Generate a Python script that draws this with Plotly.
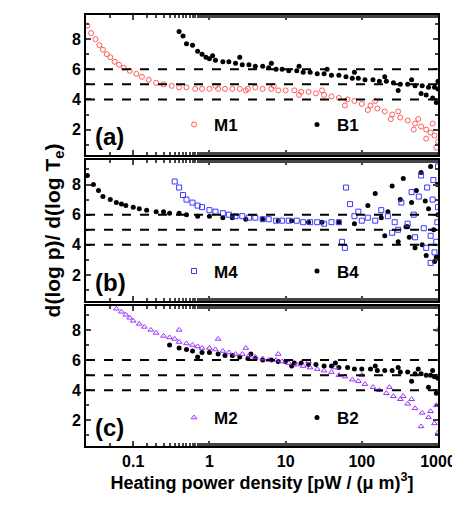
'''
d(log p)/d(log Te) vs heating power density, three samples
'''
import plotly.graph_objects as go
from plotly.subplots import make_subplots

# panel (a)
m1_x = [0.022, 0.025, 0.028, 0.032, 0.036, 0.04, 0.045, 0.05, 0.057, 0.065, 0.075, 0.09, 0.11, 0.13, 0.16, 0.2,
        0.25, 0.32, 0.4, 0.5, 0.65, 0.8, 1.0, 1.3, 1.6, 2.0, 2.5, 3.2, 4.0, 5.0, 6.5, 8.0, 10, 13, 16, 20,
        25, 32, 40, 50, 65, 80, 100, 130, 160, 200, 250, 320, 400, 500, 600, 700, 800, 900, 1000,
        1.2, 3.0, 7.0, 15, 30, 60, 120, 240, 480, 700, 950, 300, 550, 850, 150]
m1_y = [9.4, 8.9, 8.4, 8.0, 7.6, 7.3, 7.0, 6.8, 6.5, 6.3, 6.1, 5.9, 5.7, 5.5, 5.3, 5.1,
        5.0, 4.9, 4.8, 4.8, 4.7, 4.7, 4.7, 4.7, 4.7, 4.7, 4.7, 4.7, 4.8, 4.7, 4.7, 4.6, 4.6, 4.6, 4.5, 4.5,
        4.4, 4.3, 4.2, 4.1, 4.0, 3.9, 3.7, 3.6, 3.4, 3.2, 3.0, 2.8, 2.6, 2.4, 2.2, 2.0, 1.8, 1.6, 1.2,
        4.9, 4.6, 4.9, 4.3, 4.6, 3.6, 3.3, 2.7, 2.0, 1.4, 0.8, 3.2, 2.7, 2.4, 3.9]
b1_x = [0.4, 0.45, 0.5, 0.6, 0.7, 0.8, 0.9, 1.0, 1.2, 1.5, 1.8, 2.2, 2.7, 3.3, 4.0, 5.0, 6.0, 7.5, 9.0, 11,
        14, 17, 21, 26, 32, 40, 50, 62, 75, 90, 110, 140, 170, 210, 260, 320, 400, 500, 620, 750, 900, 1000,
        1.1, 2.5, 6.5, 15, 35, 80, 200, 450, 700, 850, 950, 300, 600, 1000]
b1_y = [8.5, 8.2, 7.7, 7.6, 7.2, 7.0, 6.8, 6.7, 6.6, 6.5, 6.5, 6.4, 6.3, 6.3, 6.2, 6.2, 6.1, 6.0, 6.0, 5.9,
        5.9, 5.8, 5.8, 5.7, 5.7, 5.6, 5.6, 5.5, 5.4, 5.4, 5.3, 5.3, 5.2, 5.2, 5.1, 5.0, 5.0, 4.9, 4.9, 4.8, 4.8, 4.7,
        6.9, 6.8, 6.4, 6.2, 6.0, 5.8, 5.5, 5.3, 4.3, 4.1, 3.8, 4.6, 4.4, 5.2]

# panel (b)
m4_x = [0.35, 0.4, 0.45, 0.5, 0.6, 0.7, 0.8, 1.0, 1.2, 1.5, 1.8, 2.2, 2.7, 3.3, 4.0, 5.0, 6.0, 7.5, 9.0, 11,
        14, 17, 21, 26, 32, 40, 50, 60, 70, 80, 90, 100, 120, 150, 180, 220, 270, 330, 400, 480, 560,
        650, 720, 800, 870, 950, 1000, 300, 500, 700, 900, 600, 850, 1000, 250, 450, 800, 980, 55, 62]
m4_y = [8.2, 7.8, 7.3, 7.0, 6.8, 6.6, 6.5, 6.3, 6.2, 6.1, 6.0, 5.9, 5.9, 5.8, 5.8, 5.7, 5.7, 5.6, 5.6, 5.6,
        5.6, 5.5, 5.5, 5.5, 5.4, 5.5, 5.5, 3.8, 6.7, 5.9, 6.2, 5.6, 5.8, 5.6, 6.3, 5.9, 5.5, 6.8, 5.4, 6.0, 7.2,
        5.1, 7.8, 4.6, 8.3, 4.2, 6.5, 5.0, 4.5, 3.8, 3.5, 8.6, 7.0, 9.2, 4.8, 7.5, 2.8, 5.5, 4.2, 7.8]
b4_x = [0.02, 0.025, 0.03, 0.035, 0.04, 0.05, 0.06, 0.07, 0.08, 0.1, 0.12, 0.15, 0.2, 0.25, 0.3, 0.4,
        0.5, 0.7, 1.0, 1.5, 2.0, 3.0, 5.0, 8.0, 12, 20, 30, 50, 80, 120, 150, 200, 250, 300, 350, 400,
        450, 500, 600, 700, 800, 900, 1000, 220, 320, 420, 520, 620, 750, 880, 980, 180, 380, 680, 950]
b4_y = [9.2, 8.6, 8.0, 7.6, 7.2, 7.0, 6.8, 6.7, 6.6, 6.5, 6.4, 6.3, 6.2, 6.2, 6.1, 6.1,
        6.0, 5.9, 5.9, 5.8, 5.8, 5.7, 5.7, 5.6, 5.6, 5.5, 5.5, 5.5, 5.4, 6.6, 7.4, 4.6, 7.9, 4.2, 8.4, 5.2,
        6.8, 3.8, 8.8, 3.3, 9.2, 2.9, 6.0, 6.2, 7.0, 4.5, 7.6, 4.0, 6.4, 5.0, 8.0, 5.8, 5.2, 6.9, 3.2]

# panel (c)
m2_x = [0.06, 0.07, 0.08, 0.09, 0.1, 0.12, 0.14, 0.17, 0.2, 0.25, 0.3, 0.35, 0.4, 0.5, 0.6, 0.7, 0.8, 1.0,
        1.2, 1.5, 1.8, 2.2, 2.7, 3.3, 4.0, 5.0, 6.0, 7.5, 9.0, 11, 14, 17, 21, 26, 32, 40, 50, 60, 75, 90,
        110, 140, 170, 210, 260, 320, 400, 500, 620, 750, 900, 1000, 0.4, 1.3, 3.0, 8.0, 20, 45, 100,
        230, 450, 800, 950, 1000, 600, 350]
m2_y = [9.4, 9.2, 9.0, 8.8, 8.6, 8.4, 8.2, 8.0, 7.8, 7.6, 7.5, 7.4, 7.2, 7.1, 7.0, 6.9, 6.8, 6.8,
        6.7, 6.6, 6.5, 6.4, 6.4, 6.3, 6.2, 6.1, 6.0, 6.0, 5.9, 5.8, 5.7, 5.6, 5.5, 5.4, 5.3, 5.2, 5.0, 4.9, 4.7, 4.6,
        4.4, 4.2, 4.0, 3.8, 3.6, 3.4, 3.1, 2.8, 2.5, 2.2, 1.8, 1.2, 8.0, 7.4, 6.8, 6.4, 5.9, 5.5, 5.0,
        4.2, 3.4, 2.6, 3.0, 8.0, 1.6, 3.6]
b2_x = [0.3, 0.4, 0.5, 0.6, 0.8, 1.0, 1.3, 1.6, 2.0, 2.5, 3.2, 4.0, 5.0, 6.5, 8.0, 10, 13, 16, 20, 25,
        32, 40, 50, 65, 80, 100, 130, 160, 200, 250, 320, 400, 500, 600, 700, 800, 900, 1000,
        0.7, 3.5, 12, 45, 150, 450, 750, 950, 300, 550, 850]
b2_y = [7.0, 6.8, 6.7, 6.6, 6.5, 6.5, 6.4, 6.3, 6.3, 6.2, 6.1, 6.1, 6.0, 6.0, 5.9, 5.9, 5.8, 5.8, 5.7, 5.7,
        5.6, 5.6, 5.5, 5.5, 5.4, 5.4, 5.4, 5.3, 5.3, 5.3, 5.2, 5.2, 5.1, 5.1, 5.0, 5.0, 4.9, 4.8,
        6.2, 6.4, 5.6, 5.8, 5.6, 4.6, 4.2, 3.8, 5.5, 5.4, 5.3]

FONT = 'Liberation Sans'
panels = [
    ('(a)', 'M1', m1_x, m1_y, dict(symbol='circle-open', color='#ff5a5a', size=5), 'B1', b1_x, b1_y),
    ('(b)', 'M4', m4_x, m4_y, dict(symbol='square-open', color='#3a3aff', size=5), 'B4', b4_x, b4_y),
    ('(c)', 'M2', m2_x, m2_y, dict(symbol='triangle-up-open', color='#9b30ff', size=5), 'B2', b2_x, b2_y),
]

fig = make_subplots(rows=3, cols=1, shared_xaxes=True, vertical_spacing=0.012)

legend_y = [0.745, 0.405, 0.065]
for i, (lab, mname, mx, my, mstyle, bname, bx, by) in enumerate(panels):
    row = i + 1
    leg = 'legend' if i == 0 else 'legend%d' % (i + 1)
    fig.add_trace(go.Scatter(x=bx, y=by, mode='markers', name=bname, legend=leg,
                             marker=dict(color='black', size=5)), row=row, col=1)
    fig.add_trace(go.Scatter(x=mx, y=my, mode='markers', name=mname, legend=leg,
                             marker=mstyle), row=row, col=1)
    for yv in [4, 5, 6]:
        fig.add_hline(y=yv, line=dict(color='black', width=2, dash='dash'), row=row, col=1)
    fig.add_annotation(text=lab, x=0.02, y=0.02, xref='x%s domain' % ('' if row == 1 else row),
                       yref='y%s domain' % ('' if row == 1 else row), xanchor='left', yanchor='bottom',
                       showarrow=False, font=dict(size=24, family=FONT, color='black', weight='bold'))
    fig.update_layout(**{leg: dict(orientation='h', traceorder='reversed', x=0.25, y=legend_y[i],
                                   xanchor='left', yanchor='middle', bgcolor='rgba(0,0,0,0)',
                                   font=dict(size=17, family=FONT, color='black', weight='bold'),
                                   itemwidth=30, entrywidth=78)})

axis_style = dict(showline=True, linecolor='black', linewidth=2, mirror='allticks', ticks='inside',
                  tickwidth=2, ticklen=5, showgrid=False, zeroline=False,
                  tickfont=dict(size=16, family=FONT, color='black', weight='bold'))
fig.update_xaxes(type='log', range=[-1.62, 3.0], tickvals=[0.1, 1, 10, 100, 1000],
                 ticktext=['0.1', '1', '10', '100', '1000'],
                 minor=dict(ticks='inside', ticklen=3, tickwidth=1.5), **axis_style)
fig.update_yaxes(range=[0.3, 9.6], tickvals=[2, 4, 6, 8],
                 minor=dict(ticks='inside', ticklen=3, tickwidth=1.5, dtick=1), **axis_style)
fig.update_xaxes(title=dict(text='Heating power density [pW / (\u03bc m)<sup>3</sup>]',
                            font=dict(size=18, family=FONT, color='black', weight='bold'), standoff=4),
                 row=3, col=1)
fig.update_yaxes(title=dict(text='d(log p)/ d(log T<sub>e</sub>)',
                            font=dict(size=21, family=FONT, color='black', weight='bold'), standoff=6),
                 row=2, col=1)

fig.update_layout(width=460, height=517, margin=dict(l=78, r=30, t=5, b=79),
                  plot_bgcolor='white', paper_bgcolor='white', font=dict(family=FONT))
fig.write_html('out.html')
